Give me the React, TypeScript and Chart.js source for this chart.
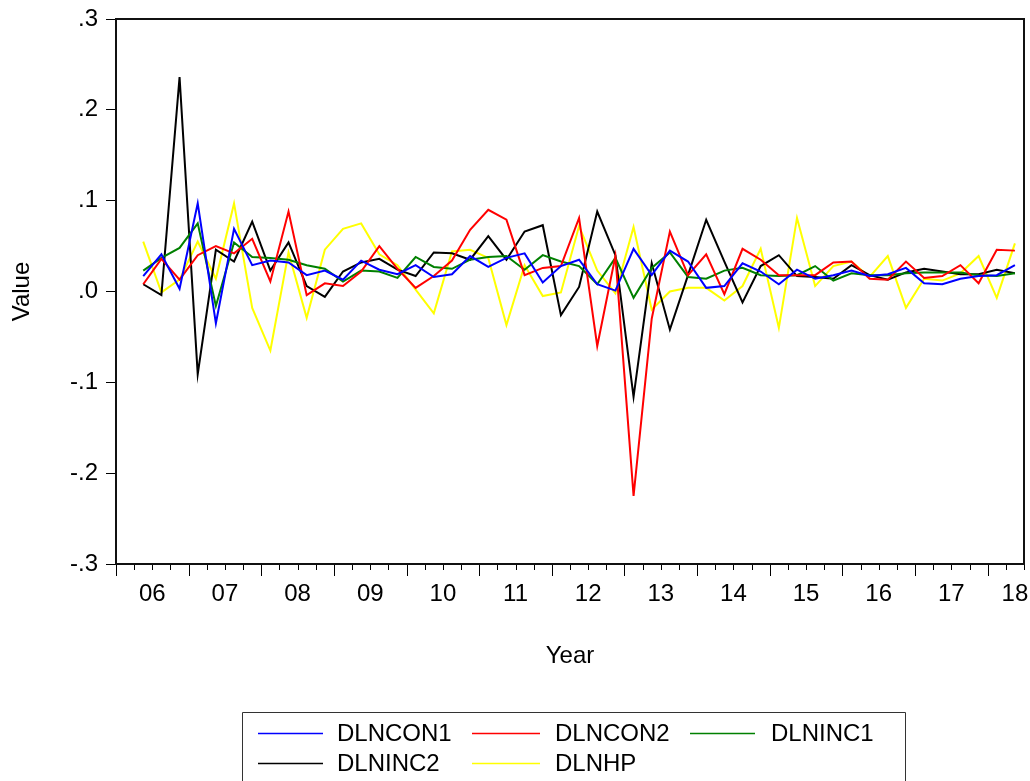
import React, { useEffect, useRef } from "react";
import { Chart, registerables } from "chart.js";

Chart.register(...registerables);

// Quarterly observations 2006Q2 .. 2018Q2
const YEAR_LABELS = ["06", "07", "08", "09", "10", "11", "12", "13", "14", "15", "16", "17", "18"];
const FIRST_QUARTER = 1; // 2006Q2 (quarter index from 2006Q1)
const TOTAL_QUARTERS = 50; // axis spans 2006Q1 .. 2018Q2

const DLNCON1 = [
  0.017, 0.041, 0.003, 0.097, -0.035, 0.069, 0.029, 0.034, 0.032, 0.018,
  0.023, 0.013, 0.034, 0.024, 0.019, 0.029, 0.016, 0.019, 0.039, 0.027,
  0.037, 0.042, 0.010, 0.028, 0.035, 0.008, 0.001, 0.047, 0.018, 0.045,
  0.033, 0.004, 0.006, 0.031, 0.022, 0.008, 0.024, 0.014, 0.018, 0.023,
  0.017, 0.019, 0.026, 0.009, 0.008, 0.014, 0.017, 0.018, 0.029,
];
const DLNCON2 = [
  0.008, 0.036, 0.013, 0.040, 0.050, 0.042, 0.058, 0.011, 0.088, -0.004,
  0.009, 0.006, 0.022, 0.050, 0.025, 0.004, 0.017, 0.034, 0.068, 0.090,
  0.079, 0.018, 0.026, 0.028, 0.081, -0.060, 0.039, -0.225, -0.030, 0.066,
  0.018, 0.041, -0.003, 0.047, 0.035, 0.018, 0.018, 0.018, 0.032, 0.033,
  0.014, 0.013, 0.033, 0.015, 0.017, 0.029, 0.009, 0.046, 0.045,
];
const DLNINC1 = [
  0.023, 0.037, 0.048, 0.075, -0.016, 0.054, 0.038, 0.037, 0.035, 0.029,
  0.025, 0.011, 0.023, 0.022, 0.015, 0.038, 0.027, 0.025, 0.035, 0.038,
  0.039, 0.024, 0.040, 0.033, 0.028, 0.008, 0.037, -0.007, 0.026, 0.043,
  0.016, 0.014, 0.023, 0.026, 0.018, 0.017, 0.018, 0.028, 0.012, 0.020,
  0.018, 0.018, 0.020, 0.021, 0.021, 0.021, 0.018, 0.017, 0.020,
];
const DLNINC2 = [
  0.008, -0.004, 0.236, -0.091, 0.046, 0.033, 0.077, 0.023, 0.054, 0.006,
  -0.006, 0.022, 0.032, 0.036, 0.024, 0.017, 0.043, 0.042, 0.035, 0.061,
  0.035, 0.066, 0.073, -0.026, 0.005, 0.088, 0.040, -0.116, 0.031, -0.042,
  0.018, 0.079, 0.033, -0.012, 0.028, 0.040, 0.017, 0.016, 0.014, 0.029,
  0.018, 0.013, 0.021, 0.025, 0.022, 0.019, 0.019, 0.024, 0.020,
];
const DLNHP = [
  0.055, -0.001, 0.013, 0.055, 0.014, 0.097, -0.018, -0.065, 0.043, -0.029,
  0.046, 0.069, 0.075, 0.041, 0.029, 0.002, -0.024, 0.044, 0.046, 0.037,
  -0.037, 0.029, -0.005, -0.001, 0.072, 0.023, -0.002, 0.071, -0.020, 0.000,
  0.004, 0.004, -0.010, 0.006, 0.047, -0.040, 0.081, 0.006, 0.028, 0.033,
  0.016, 0.039, -0.018, 0.014, 0.012, 0.020, 0.039, -0.007, 0.053,
];

const SERIES_NAMES = ["DLNCON1", "DLNCON2", "DLNINC1", "DLNINC2", "DLNHP"];
const SERIES_VALUES = [DLNCON1, DLNCON2, DLNINC1, DLNINC2, DLNHP];
const SERIES_COLORS = ["#0000ff", "#ff0000", "#008000", "#000000", "#ffff00"];

const FONT = "'Liberation Sans', Arial, sans-serif";

function fmtY(v: number): string {
  const r = Math.round(v * 10) / 10;
  let s = r.toFixed(1);
  if (s === "-0.0") s = "0.0";
  return s.replace(/^(-?)0\./, "$1.");
}

const framePlugin = {
  id: "frame",
  afterDraw(chart: any) {
    const { ctx, chartArea } = chart;
    const xs = chart.scales.x;
    ctx.save();
    // quarter tick marks
    ctx.strokeStyle = "#000";
    ctx.lineWidth = 1;
    for (let q = 0; q <= TOTAL_QUARTERS; q++) {
      const px = Math.round(xs.getPixelForValue(q)) + 0.5;
      const len = q % 4 === 0 ? 12 : 6;
      ctx.beginPath();
      ctx.moveTo(px, chartArea.bottom);
      ctx.lineTo(px, chartArea.bottom + len);
      ctx.stroke();
    }
    // plot frame
    ctx.strokeStyle = "#111";
    ctx.lineWidth = 2;
    ctx.strokeRect(chartArea.left, chartArea.top, chartArea.right - chartArea.left, chartArea.bottom - chartArea.top);

    // legend box
    const boxL = 242.5, boxT = 712.5, boxR = 905.5;
    ctx.strokeStyle = "#333";
    ctx.lineWidth = 1;
    ctx.beginPath();
    ctx.moveTo(boxL, 800);
    ctx.lineTo(boxL, boxT);
    ctx.lineTo(boxR, boxT);
    ctx.lineTo(boxR, 800);
    ctx.stroke();

    const cols = [
      { lx: 258, lw: 65, tx: 337 },
      { lx: 472, lw: 68, tx: 555 },
      { lx: 690, lw: 65, tx: 771 },
    ];
    const rows = [733, 763];
    ctx.font = "24px " + FONT;
    ctx.textBaseline = "middle";
    ctx.textAlign = "left";
    SERIES_NAMES.forEach((name, i) => {
      const c = cols[i % 3];
      const y = rows[Math.floor(i / 3)];
      ctx.strokeStyle = SERIES_COLORS[i];
      ctx.lineWidth = 1.5;
      ctx.beginPath();
      ctx.moveTo(c.lx, y + 0.5);
      ctx.lineTo(c.lx + c.lw, y + 0.5);
      ctx.stroke();
      ctx.fillStyle = "#000";
      ctx.fillText(name, c.tx, y + 1);
    });
    ctx.restore();
  },
};

export default function App() {
  const ref = useRef<HTMLCanvasElement | null>(null);

  useEffect(() => {
    if (!ref.current) return;
    const datasets = SERIES_NAMES.map((name, s) => ({
      label: name,
      data: SERIES_VALUES[s].map((v, i) => ({ x: FIRST_QUARTER + i + 0.5, y: v })),
      borderColor: SERIES_COLORS[s],
      backgroundColor: SERIES_COLORS[s],
      borderWidth: 2,
      pointRadius: 0,
      tension: 0,
      fill: false,
    }));
    const labelValues = YEAR_LABELS.map((_, k) => Math.min(4 * k + 2, TOTAL_QUARTERS - 0.5));

    const chart = new Chart(ref.current, {
      type: "line",
      data: { datasets },
      options: {
        animation: false,
        responsive: false,
        maintainAspectRatio: false,
        layout: { padding: { top: 19, right: 6, bottom: 107, left: 0 } },
        plugins: { legend: { display: false }, tooltip: { enabled: false } },
        scales: {
          x: {
            type: "linear",
            min: 0,
            max: TOTAL_QUARTERS,
            afterBuildTicks: (scale: any) => {
              scale.ticks = [...labelValues.map((v) => ({ value: v })), { value: TOTAL_QUARTERS }];
            },
            afterFit: (scale: any) => {
              scale.height = 110;
              scale.paddingLeft = 0;
              scale.paddingRight = 0;
            },
            border: { display: false },
            grid: { display: true, drawOnChartArea: false, drawTicks: true, tickLength: 12, color: "rgba(0,0,0,0)", tickColor: "rgba(0,0,0,0)" },
            ticks: {
              autoSkip: false,
              maxRotation: 0,
              minRotation: 0,
              padding: 4,
              color: "#000",
              font: { family: FONT, size: 24 },
              callback: (value: any) => {
                const idx = labelValues.indexOf(Number(value));
                return idx >= 0 ? YEAR_LABELS[idx] : "";
              },
            },
            title: { display: true, text: "Year", color: "#000", font: { family: FONT, size: 24 }, padding: { top: 0, bottom: 3 } },
          },
          y: {
            type: "linear",
            min: -0.3,
            max: 0.3,
            afterFit: (scale: any) => {
              scale.width = 116;
              scale.paddingTop = 0;
              scale.paddingBottom = 0;
            },
            border: { display: false },
            grid: { display: true, drawOnChartArea: false, drawTicks: true, tickLength: 10, tickColor: "#000", tickWidth: 1 },
            ticks: {
              stepSize: 0.1,
              padding: 8,
              color: "#000",
              font: { family: FONT, size: 24 },
              callback: (value: any) => fmtY(Number(value)),
            },
            title: { display: true, text: "Value", color: "#000", font: { family: FONT, size: 24 }, padding: { top: 8, bottom: 0 } },
          },
        },
      },
      plugins: [framePlugin],
    });
    return () => chart.destroy();
  }, []);

  return (
    <div style={{ position: "absolute", left: 0, top: 0, width: 1030, height: 781, background: "#fff" }}>
      <canvas ref={ref} width={1030} height={781} style={{ display: "block", width: 1030, height: 781 }} />
    </div>
  );
}
